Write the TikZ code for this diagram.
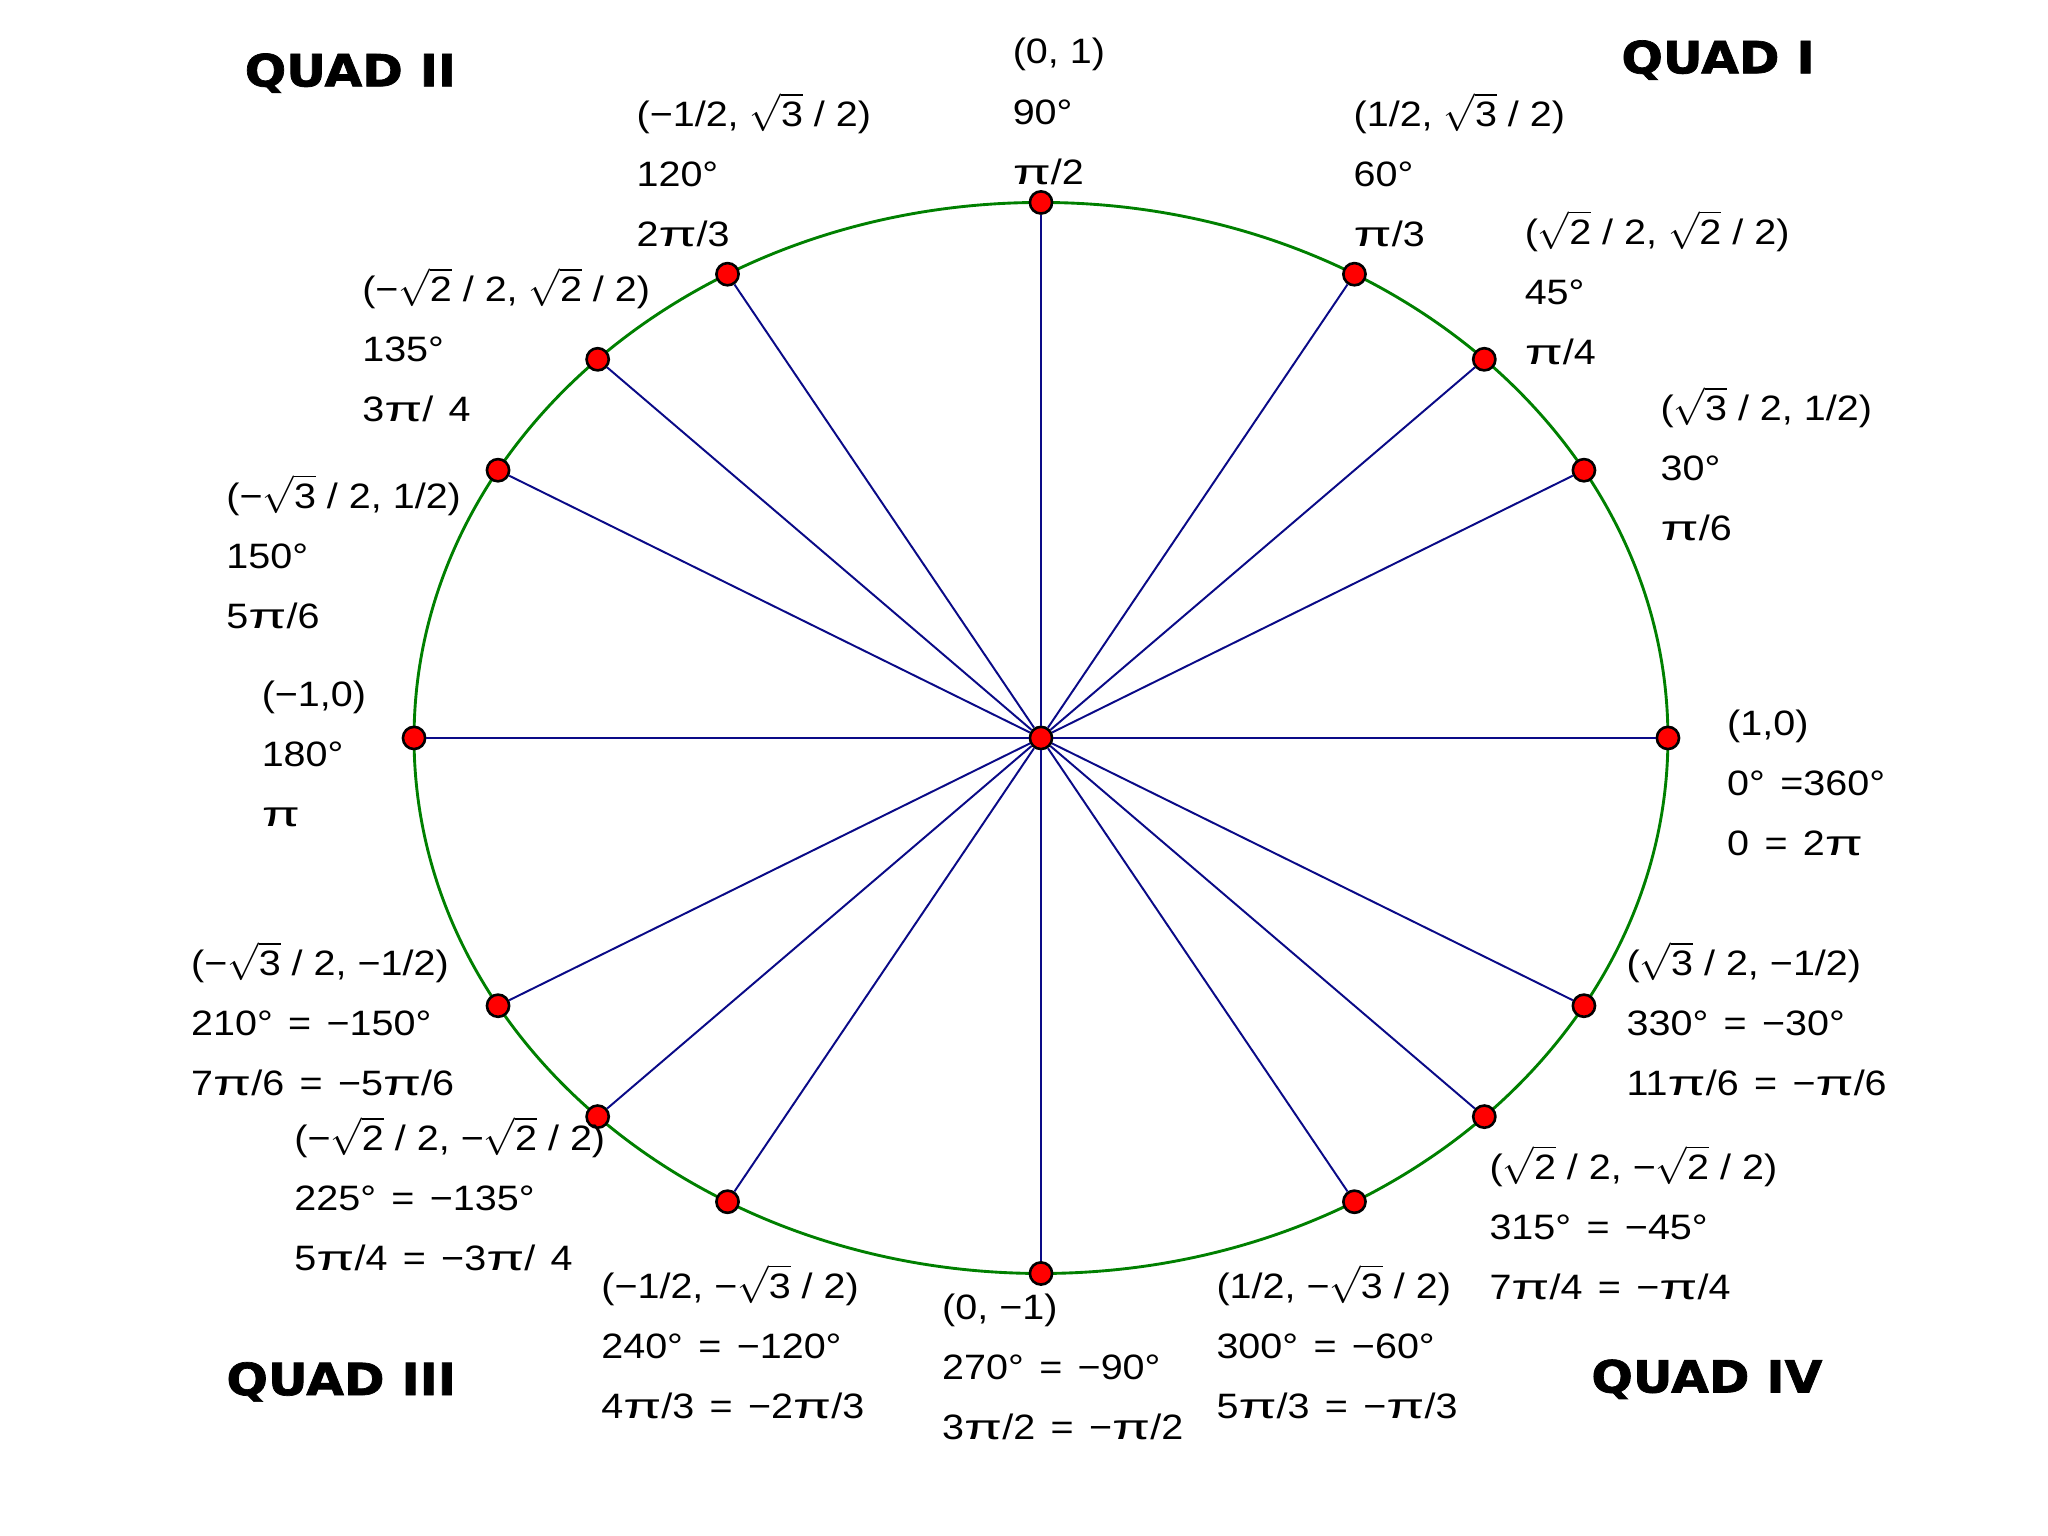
\documentclass[tikz,border=0pt]{standalone}
\usepackage{fontspec}
\setmainfont{Liberation Sans}[FakeStretch=1.12,WordSpace=1.4]
\newfontfamily\quadfont[FakeStretch=1.1,FakeBold=1.6]{DejaVu Sans}
\definecolor{ringgreen}{RGB}{0,128,0}
\definecolor{raynavy}{RGB}{10,10,135}
\newcommand\sq[1]{$\sqrt{\mbox{#1}}$}
\newcommand\p{\scalebox{1.4}[1]{π}}
\newcommand\tightsp{\spaceskip=4.2pt\relax}
\newcommand\trio[6]{%
  \node[lab] (#1a) at (#2,#3+9) {\tightsp #4};
  \node[lab] (#1b) at (#2,#3+55) {#5};
  \node[lab] (#1c) at (#2,#3+101) {#6};}
\begin{document}
\begin{tikzpicture}[x=0.5pt,y=-0.5pt,
  lab/.style={anchor=base west,inner sep=0pt,font=\fontsize{13.5}{15}\selectfont},
  quad/.style={inner sep=0pt,font=\quadfont\bfseries\fontsize{17}{19}\selectfont},
  dot/.style={circle,fill=red,draw=black,line width=1pt,minimum size=8.5pt,inner sep=0pt},
  ray/.style={draw=raynavy,line width=0.75pt},
  axis/.style={draw=raynavy,line width=1pt}]
\useasboundingbox (0,0) rectangle (1568,1176);
\fill[white] (0,0) rectangle (1568,1176);
% circle
\draw[ringgreen,line width=1.1pt] (797,565) ellipse [x radius=480, y radius=410];
% dots
\node[dot] (c) at (797,565) {};
\foreach \a in {0,30,45,60,90,120,135,150,180,210,225,240,270,300,315,330}
  \node[dot] (p\a) at ({797+480*cos(\a)},{565-410*sin(\a)}) {};
% rays
\foreach \a in {30,45,60,120,135,150,210,225,240,300,315,330}
  \draw[ray] (c) -- (p\a);
\foreach \a in {0,90,180,270}
  \draw[axis] (c) -- (p\a);
% labels
\trio{l90}{775}{40}{(0, 1)}{90°}{\p/2}
\trio{l60}{1036}{88}{(1/2, \sq{3} / 2)}{60°}{\p/3}
\trio{l45}{1167}{178}{(\sq{2} / 2, \sq{2} / 2)}{45°}{\p/4}
\trio{l30}{1271}{313}{(\sq{3} / 2, 1/2)}{30°}{\p/6}
\trio{l0}{1322}{554}{(1,0)}{0° =360°}{0 = 2\p}
\trio{l120}{487}{88}{(−1/2, \sq{3} / 2)}{120°}{2\p/3}
\trio{l135}{277}{222}{(−\sq{2} / 2, \sq{2} / 2)}{135°}{3\p/ 4}
\trio{l150}{173}{380}{(−\sq{3} / 2, 1/2)}{150°}{5\p/6}
\trio{l180}{200}{532}{(−1,0)}{180°}{\p}
\trio{l210}{146}{738}{(−\sq{3} / 2, −1/2)}{210° = −150°}{7\p/6 = −5\p/6}
\trio{l225}{225}{872}{(−\sq{2} / 2, −\sq{2} / 2)}{225° = −135°}{5\p/4 = −3\p/ 4}
\trio{l240}{460}{985}{(−1/2, −\sq{3} / 2)}{240° = −120°}{4\p/3 = −2\p/3}
\trio{l270}{721}{1001}{(0, −1)}{270° = −90°}{3\p/2 = −\p/2}
\trio{l300}{931}{985}{(1/2, −\sq{3} / 2)}{300° = −60°}{5\p/3 = −\p/3}
\trio{l315}{1140}{894}{(\sq{2} / 2, −\sq{2} / 2)}{315° = −45°}{7\p/4 = −\p/4}
\trio{l330}{1245}{738}{(\sq{3} / 2, −1/2)}{330° = −30°}{11\p/6 = −\p/6}
% quadrant titles
\node[quad,anchor=west] (q2) at (187,56) {QUAD II};
\node[quad,anchor=west] (q1) at (1241,46) {QUAD I};
\node[quad,anchor=west] (q3) at (173,1058) {QUAD III};
\node[quad,anchor=west] (q4) at (1218,1056) {QUAD IV};
\end{tikzpicture}
\end{document}
